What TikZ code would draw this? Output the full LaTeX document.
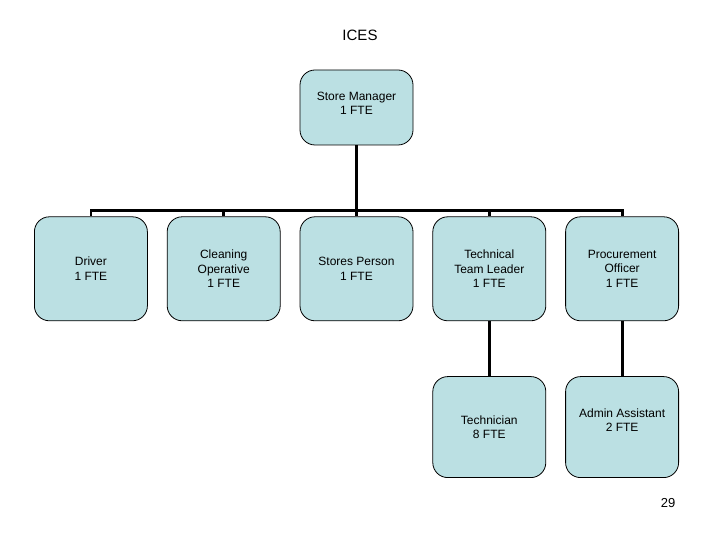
\documentclass[tikz,border=0pt]{standalone}
\usepackage{fontspec}
\setmainfont{Liberation Sans}
\usetikzlibrary{positioning}
\definecolor{boxfill}{RGB}{187,224,227}

\begin{document}
\begin{tikzpicture}[
    x=1pt, y=1pt,
    node distance=19pt,
    role/.style={draw, fill=boxfill, rounded corners=15pt, align=center, line width=0.8pt,
        minimum width=113pt, minimum height=104pt, inner sep=2pt,
        font=\fontsize{12}{14.5}\selectfont},
    link/.style={line width=2.8pt}
]
\useasboundingbox (0,0) rectangle (720,540);
\node[font=\fontsize{15}{17}\selectfont] (title) at (360,505) {ICES};
\node[role, minimum height=75pt, text depth=8pt] (mgr) at (356.5,432.5) {Store Manager \\ 1 FTE};
\node[role, below=71pt of mgr] (stores) {Stores Person \\ 1 FTE};
\node[role, left=of stores] (clean) {Cleaning \\ Operative \\ 1 FTE};
\node[role, left=of clean] (driver) {Driver \\ 1 FTE};
\node[role, right=of stores] (ttl) {Technical \\ Team Leader \\ 1 FTE};
\node[role, right=of ttl] (proc) {Procurement \\ Officer \\ 1 FTE};
\node[role, below=55pt of ttl, minimum height=101pt] (tech) {Technician \\ 8 FTE};
\node[role, below=55pt of proc, minimum height=101pt, text depth=14pt] (admin) {Admin Assistant \\ 2 FTE};
\node[font=\fontsize{13}{15}\selectfont] (page) at (668,37) {29};
% reporting lines
\draw[link] (mgr.south) -- ++(0,-65) -| (driver.north);
\draw[link] (mgr.south) -- ++(0,-65) -| (clean.north);
\draw[link] (mgr.south) -- (stores.north);
\draw[link] (mgr.south) -- ++(0,-65) -| (ttl.north);
\draw[link] (mgr.south) -- ++(0,-65) -| (proc.north);
\draw[link] (ttl.south) -- (tech.north);
\draw[link] (proc.south) -- (admin.north);
\end{tikzpicture}
\end{document}
